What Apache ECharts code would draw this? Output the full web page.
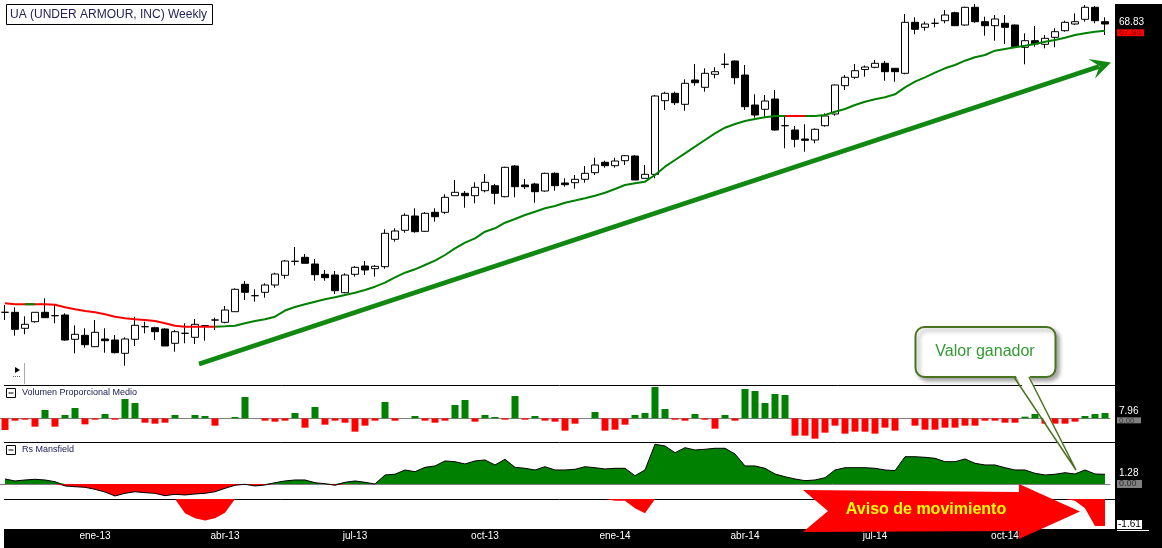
<!DOCTYPE html>
<html><head><meta charset="utf-8">
<script src="https://cdn.jsdelivr.net/npm/echarts@6/dist/echarts.min.js"></script>
<style>html,body{margin:0;padding:0;background:#fff}#c{width:1162px;height:548px}</style>
</head><body><div id="c"></div>
<script>
// ---- DATA (weekly, UA) ----
const firstWeek = '2012-11-02';
// [open, close, low, high]
const candles = [
[31.35,31.35,30.35,32.30],[31.35,29.14,28.31,32.00],[29.27,29.79,28.49,30.83],[30.13,31.35,30.00,31.35],[31.35,30.65,30.65,33.17],
[30.91,30.91,29.92,32.30],[31.00,27.75,27.66,31.22],[27.84,28.49,26.02,29.66],[28.36,27.14,26.75,29.27],[26.88,28.75,26.88,30.35],
[27.88,27.66,26.10,29.27],[27.75,26.10,26.02,28.40],[26.02,27.88,24.41,28.10],[27.84,29.66,26.97,30.78],[29.48,29.48,28.62,30.13],
[29.35,28.83,27.75,29.48],[29.18,26.97,26.97,29.27],[27.32,28.83,26.23,29.05],[28.62,28.62,27.32,29.92],[28.10,29.79,27.23,30.48],
[29.61,29.61,27.66,29.70],[30.35,30.35,29.05,30.65],[30.05,31.65,29.92,32.17],[31.43,34.34,31.43,34.47],[34.99,33.95,32.95,35.42],
[33.51,33.51,32.73,34.34],[33.95,34.90,33.25,35.12],[34.90,36.33,34.55,36.50],[36.16,38.02,35.72,38.15],[37.98,37.98,37.46,39.84],
[38.50,37.72,37.72,38.93],[37.63,36.24,35.46,38.28],[36.29,35.85,35.46,36.85],[36.20,34.16,33.73,36.72],[33.90,36.20,33.82,36.42],
[36.29,37.20,35.98,37.37],[37.37,36.85,36.20,38.02],[37.02,37.33,35.98,37.50],[37.28,41.62,37.02,42.14],[40.84,41.92,40.53,42.27],
[42.01,43.96,41.70,44.22],[43.87,41.83,41.70,44.87],[41.88,44.22,41.79,44.39],[44.35,43.78,43.13,44.87],[44.35,46.30,44.13,46.69],
[46.51,46.95,46.51,48.55],[46.82,46.51,44.95,47.12],[46.51,47.60,45.52,48.25],[47.16,48.25,46.95,49.33],[47.81,46.82,45.39,48.03],
[46.38,50.20,46.30,50.28],[50.37,47.68,46.30,50.50],[47.90,47.68,47.38,48.68],[48.03,47.03,45.60,48.20],[47.12,49.42,47.03,49.50],
[49.42,47.81,47.16,49.55],[48.16,47.94,47.68,48.77],[48.20,48.64,47.42,49.20],[48.64,49.42,48.20,50.37],[49.50,50.50,49.20,51.45],
[50.85,50.41,50.15,51.06],[50.41,51.02,50.15,51.45],[51.06,51.71,50.50,51.80],[51.67,48.55,48.55,51.80],[48.77,49.29,48.77,50.50],
[49.29,59.47,48.77,59.60],[58.86,59.82,57.65,60.03],[59.82,58.60,58.30,60.03],[58.39,61.12,57.56,61.64],[61.55,61.20,60.81,63.63],
[60.60,62.42,60.03,63.07],[62.29,62.63,61.77,63.20],[63.59,63.59,63.07,65.02],[64.02,61.85,60.99,64.08],[62.20,58.08,57.65,63.50],
[58.30,57.00,56.65,59.69],[57.74,58.82,56.78,59.60],[59.08,55.05,54.96,60.25],[55.61,55.61,52.67,56.78],[55.05,53.84,52.80,55.57],
[53.88,53.71,52.23,55.79],[53.75,55.14,53.32,55.27],[55.61,56.87,55.48,57.22],[57.13,60.90,56.91,60.96],[60.81,61.90,60.25,62.20],
[61.90,62.76,61.68,63.63],[62.91,63.24,61.98,63.43],[63.20,63.72,63.07,64.15],[63.72,62.63,61.46,64.02],[63.07,62.63,61.33,63.11],
[62.42,69.05,62.29,70.13],[69.05,68.14,67.49,69.70],[68.40,68.83,67.96,69.13],[68.92,68.92,68.40,69.57],[69.26,70.00,68.92,70.65],
[70.30,68.61,68.57,70.43],[68.70,71.00,68.61,71.08],[71.00,69.13,69.00,71.43],[69.13,68.61,67.31,69.78],[68.61,69.48,66.66,70.00],
[68.92,68.40,66.23,70.00],[68.70,65.88,65.80,68.77],[65.80,66.66,63.59,67.62],[66.66,66.23,65.88,68.57],[66.19,66.97,65.67,67.40],
[67.10,67.83,65.80,68.27],[67.96,69.05,67.83,69.26],[68.83,69.13,68.70,70.22],[69.44,71.00,69.13,71.30],[71.00,69.26,68.92,71.17],
[69.13,68.83,67.40,69.70]
];
const ma30 = [
32.52,32.39,32.39,32.39,32.39,32.34,32.00,31.74,31.52,31.35,
31.09,30.78,30.57,30.44,30.35,30.22,29.92,29.61,29.48,29.48,
29.48,29.48,29.53,29.61,29.92,30.22,30.44,30.78,31.58,32.04,
32.39,32.73,33.04,33.30,33.60,33.90,34.25,34.68,35.20,35.90,
36.50,36.94,37.50,38.06,38.80,39.67,40.40,40.97,41.83,42.27,
43.00,43.48,44.00,44.43,44.87,45.17,45.60,45.88,46.17,46.51,
46.90,47.38,47.90,48.12,48.33,49.20,50.28,51.15,52.02,52.88,
53.75,54.62,55.35,55.83,56.22,56.48,56.70,56.87,56.87,56.87,
56.87,56.87,57.00,57.43,57.78,58.30,58.73,59.04,59.30,59.69,
60.60,61.33,61.90,62.50,63.07,63.50,64.06,64.50,64.80,65.36,
65.58,65.80,66.01,66.23,66.53,66.75,67.05,67.40,67.62,67.83,
67.96
];
// week-index ranges where the average is drawn in red (falling)
const maDownRanges = [[0,2],[3,21],[78,80]];
const volumeRatio = [
-17.5,-3.5,-2.0,-12.5,12.5,-12.5,5.0,15.5,-9.0,-2.0,
6.5,-2.0,29.0,23.0,-6.5,-8.0,-6.5,5.0,0,5.0,
3.5,-11.0,0,2.0,32.0,0,-3.5,-5.0,-3.5,8.0,
-14.0,17.0,-9.5,-3.5,-6.5,-20.0,-11.0,-3.5,24.5,-3.5,
0,3.5,-3.5,-6.5,-3.5,20.0,27.5,-5.0,5.0,2.0,
-2.0,33.5,-2.0,3.5,-3.5,-5.0,-18.5,-8.0,0,9.5,
-18.5,-17.0,-9.5,5.0,8.0,47.0,14.0,-2.0,-3.5,6.5,
-2.0,-15.5,5.0,-3.5,44.0,41.0,23.0,36.5,35.0,-26.0,
-26.0,-30.5,-21.5,-11.0,-23.0,-20.0,-20.0,-23.0,-14.0,-18.5,
0,-11.0,-17.0,-17.0,-14.0,-14.0,-11.0,-11.0,-3.5,-3.5,
-6.5,-6.5,2.5,6.5,-8.0,-8.0,-8.0,-5.0,3.5,6.5,
7.96
];
const rsMansfield = [
0.66,0.40,0.53,0.62,0.53,0.30,-0.26,-0.36,-0.44,-0.70,
-1.06,-1.58,-1.23,-1.02,-1.15,-1.23,-1.54,-1.36,-1.45,-1.32,
-1.23,-1.02,-0.57,-0.17,-0.04,-0.26,-0.13,0.17,0.40,0.53,
0.53,0.17,0.04,-0.17,0.22,0.40,0.22,0.00,1.19,1.29,
1.85,1.62,2.20,2.38,3.04,2.94,2.64,3.04,3.17,2.51,
3.26,2.20,2.07,1.85,2.28,1.85,1.85,1.94,2.28,2.15,
1.98,2.07,2.07,1.10,1.85,5.24,5.02,4.13,4.79,4.49,
4.58,4.71,4.71,3.96,2.38,2.38,2.07,1.32,0.96,0.66,
0.44,0.53,0.83,1.85,2.15,2.15,2.15,2.07,1.85,1.76,
3.60,3.60,3.52,3.39,2.94,2.94,3.30,2.73,2.51,2.51,
2.15,1.85,1.85,1.41,1.19,1.28,1.49,1.32,1.85,1.32,
1.28
];
// [week index, value] of the lower warning band
const rsWarningPoints = [[17,0],[18,-0.85],[19,-1.15],[20,-1.29],[21,-1.15],[22,-0.82],[23,0],
[60,0],[61,-0.10],[62,-0.10],[63,-0.55],[64,-0.85],[65,0],
[106,0],[107,-0.10],[108,-0.55],[109,-1.61],[110,-1.61]];
const tickLabels = [['2013-01-04','ene-13'],['2013-04-05','abr-13'],['2013-07-05','jul-13'],['2013-10-04','oct-13'],
['2014-01-03','ene-14'],['2014-04-04','abr-14'],['2014-07-04','jul-14'],['2014-10-03','oct-14']];

// ---- BUILD ----
const N = candles.length;
const categories = [];
const t0 = Date.parse(firstWeek + 'T00:00:00Z');
for (let i = 0; i < N; i++) categories.push(new Date(t0 + i * 7 * 86400000).toISOString().slice(0, 10));
const tickMap = {}; tickLabels.forEach(([d, t]) => { tickMap[d] = t; });
const segDown = i => maDownRanges.some(([a, b]) => i >= a && i < b);
const maRed = ma30.map((v, i) => (segDown(i) && i < N - 1) || (i > 0 && segDown(i - 1)) ? v : null);
const maGreen = ma30.map((v, i) => (!segDown(i) && i < N - 1) || (i > 0 && !segDown(i - 1)) ? v : null);
const rsPos = rsMansfield.map(v => Math.max(v, 0));
const rsNeg = rsMansfield.map(v => Math.min(v, 0));
const rsWarning = new Array(N).fill(null);
rsWarningPoints.forEach(([i, v]) => { rsWarning[i] = v; });

const FONT = 'Liberation Sans';
const GREEN = '#008000', RED = '#ff0000';
const grids = [
  {left: 0, top: 4, width: 1110, height: 380},
  {left: 0, top: 385, width: 1110, height: 57},
  {left: 0, top: 442, width: 1110, height: 57},
  {left: 0, top: 499, width: 1110, height: 30}
];
function xAx(g, extra) {
  return Object.assign({
    type: 'category', gridIndex: g, data: categories, boundaryGap: true,
    axisLine: {show: false}, axisTick: {show: false}, axisLabel: {show: false}, splitLine: {show: false}
  }, extra || {});
}
function yAx(g, min, max) {
  return {type: 'value', gridIndex: g, min: min, max: max, show: false, splitLine: {show: false}};
}
const chart = echarts.init(document.getElementById('c'));
chart.setOption({
  animation: false,
  backgroundColor: '#ffffff',
  grid: grids,
  xAxis: [
    xAx(0),
    xAx(1, {axisLine: {show: true, onZero: true, lineStyle: {color: '#808080', width: 1}}}),
    xAx(2, {axisLine: {show: true, onZero: true, lineStyle: {color: '#808080', width: 1}}}),
    xAx(3, {z: 10, axisLabel: {show: true, color: '#ffffff', fontSize: 10, fontFamily: FONT, margin: 2,
      interval: (idx, val) => tickMap[val] !== undefined, formatter: val => tickMap[val] || ''}})
  ],
  yAxis: [yAx(0, 22.03, 71.43), yAx(1, -35.5, 50), yAx(2, -1.98, 5.54), yAx(3, -1.79, 0)],
  series: [
    {type: 'candlestick', xAxisIndex: 0, yAxisIndex: 0, data: candles, barWidth: 7,
      itemStyle: {color: '#ffffff', color0: '#000000', borderColor: '#000000', borderColor0: '#000000',
        borderColorDoji: '#000000', borderWidth: 1}},
    {type: 'line', xAxisIndex: 0, yAxisIndex: 0, data: maRed, symbol: 'none', connectNulls: false,
      lineStyle: {color: RED, width: 2}, z: 3},
    {type: 'line', xAxisIndex: 0, yAxisIndex: 0, data: maGreen, symbol: 'none', connectNulls: false,
      lineStyle: {color: GREEN, width: 2}, z: 3},
    {type: 'bar', xAxisIndex: 1, yAxisIndex: 1, data: volumeRatio, barWidth: 7,
      itemStyle: {color: p => (p.value >= 0 ? GREEN : RED)}},
    {type: 'line', xAxisIndex: 2, yAxisIndex: 2, data: rsPos, symbol: 'none',
      lineStyle: {width: 0, color: GREEN}, itemStyle: {color: GREEN}, areaStyle: {color: GREEN, opacity: 1}},
    {type: 'line', xAxisIndex: 2, yAxisIndex: 2, data: rsNeg, symbol: 'none',
      lineStyle: {width: 0, color: RED}, itemStyle: {color: RED}, areaStyle: {color: RED, opacity: 1}},
    {type: 'line', xAxisIndex: 2, yAxisIndex: 2, data: rsMansfield, symbol: 'none', z: 3,
      lineStyle: {width: 1, color: '#000000'}, itemStyle: {color: '#000000'}},
    {type: 'line', xAxisIndex: 3, yAxisIndex: 3, data: rsWarning, symbol: 'none', connectNulls: false,
      lineStyle: {width: 0, color: RED}, itemStyle: {color: RED}, areaStyle: {color: RED, opacity: 1}}
  ]
});

// ---- annotations and value labels ----
const last = N - 1;
const pp = (g, v) => chart.convertToPixel({xAxisIndex: g, yAxisIndex: g}, [last, v]);
const yPrice = pp(0, candles[last][1])[1];
const yMA = pp(0, ma30[last])[1];
const yVol = pp(1, volumeRatio[last])[1];
const yVol0 = pp(1, 0)[1];
const yRs = pp(2, rsMansfield[last])[1];
const yRs0 = pp(2, 0)[1];
const yW = pp(3, rsWarning[last])[1];

function txt(x, y, s, opt) {
  return {type: 'text', x: x, y: y, style: Object.assign({text: s, fill: '#000', font: '10px ' + FONT,
    verticalAlign: 'middle'}, opt || {})};
}
const G = [];
G.push({type: 'rect', z: 0, shape: {x: 4, y: 529, width: 1158, height: 19}, style: {fill: '#000'}});
G.push({type: 'rect', z: 0, shape: {x: 1115, y: 4, width: 47, height: 544}, style: {fill: '#000'}});
[385.5, 442.5, 499.5].forEach(y => G.push({type: 'line', z: 1, shape: {x1: 4, y1: y, x2: 1115, y2: y}, style: {stroke: '#000', lineWidth: 1}}));
G.push({type: 'rect', z: 20, shape: {x: 6.5, y: 4.5, width: 206, height: 20}, style: {fill: '#fff', stroke: '#000', lineWidth: 1}});
G.push(Object.assign(txt(10, 15, 'UA (UNDER ARMOUR, INC) Weekly', {fill: '#23235a', font: '12px ' + FONT}), {z: 21}));
[[388.5, 393, 'Volumen Proporcional Medio'], [445.5, 450, 'Rs Mansfield']].forEach(([by, ty, s]) => {
  G.push({type: 'rect', z: 20, shape: {x: 6.5, y: by, width: 9, height: 9}, style: {fill: '#fff', stroke: '#000', lineWidth: 1}});
  G.push({type: 'line', z: 21, shape: {x1: 8.5, y1: by + 4.5, x2: 13.5, y2: by + 4.5}, style: {stroke: '#000', lineWidth: 1}});
  G.push(Object.assign(txt(22, ty, s, {fill: '#20205a', font: '9px ' + FONT}), {z: 21}));
});
G.push({type: 'polygon', z: 20, shape: {points: [[15, 367], [20, 370], [15, 373]]}, style: {fill: '#000'}});
G.push({type: 'line', z: 20, shape: {x1: 13, y1: 376.5, x2: 20, y2: 376.5}, style: {stroke: '#666', lineWidth: 1, lineDash: [1, 1]}});
G.push({type: 'line', z: 20, shape: {x1: 24.5, y1: 363, x2: 24.5, y2: 384}, style: {stroke: '#aaa', lineWidth: 1}});
G.push({type: 'line', z: 50, shape: {x1: 199, y1: 364, x2: 1099, y2: 66.5}, style: {stroke: '#118811', lineWidth: 4.5}});
G.push({type: 'polygon', z: 50, shape: {points: [[1111, 62.5], [1088.5, 59], [1099.6, 66.3], [1095, 78.5]]}, style: {fill: '#118811'}});
G.push({type: 'rect', z: 100, shape: {x: 915.5, y: 327, width: 140, height: 50, r: 9},
  style: {fill: '#fff', stroke: '#4a7320', lineWidth: 2, shadowBlur: 4, shadowColor: 'rgba(0,0,0,0.35)', shadowOffsetX: 3, shadowOffsetY: 3}});
G.push({type: 'polygon', z: 101, shape: {points: [[1014.5, 374], [1076, 470], [1028.5, 374]]}, style: {fill: '#fff'}});
G.push({type: 'polyline', z: 102, shape: {points: [[1014, 377], [1076, 470], [1029, 377]]}, style: {stroke: '#4a7320', lineWidth: 1.5, fill: null}});
G.push(Object.assign(txt(985, 352, 'Valor ganador', {fill: '#339933', font: '16px ' + FONT, align: 'center'}), {z: 103}));
G.push({type: 'polygon', z: 100, shape: {points: [[803, 490], [1019, 492], [1019, 484], [1080, 511.5], [1019, 539], [1019, 531], [803, 532], [828, 511]]},
  style: {fill: RED}});
G.push(Object.assign(txt(926, 510, 'Aviso de movimiento', {fill: '#ffff00', font: 'bold 16px ' + FONT, align: 'center'}), {z: 101}));
G.push(Object.assign(txt(1119, yPrice - 1.5, candles[last][1].toFixed(2), {fill: '#fff'}), {z: 30}));
G.push({type: 'rect', z: 30, shape: {x: 1117, y: yMA - 1.5, width: 27, height: 7}, style: {fill: RED}});
G.push(Object.assign(txt(1119, yMA + 2, ma30[last].toFixed(2), {fill: '#7a0000', font: '9px ' + FONT}), {z: 31}));
G.push({type: 'rect', z: 30, shape: {x: 1117, y: yVol0 - 1, width: 24, height: 6}, style: {fill: '#808080'}});
G.push(Object.assign(txt(1119, yVol0 + 2, '0.00', {fill: '#404040', font: '8px ' + FONT}), {z: 31}));
G.push(Object.assign(txt(1119, yVol - 1.5, volumeRatio[last].toFixed(2), {fill: '#fff'}), {z: 32}));
G.push({type: 'rect', z: 30, shape: {x: 1117, y: yRs0 - 4, width: 25, height: 8}, style: {fill: '#808080'}});
G.push(Object.assign(txt(1119, yRs0, '0.00', {fill: '#303030', font: '9px ' + FONT}), {z: 31}));
G.push(Object.assign(txt(1119, yRs - 1, rsMansfield[last].toFixed(2), {fill: '#fff'}), {z: 32}));
G.push({type: 'rect', z: 30, shape: {x: 1117, y: yW - 6, width: 25, height: 9}, style: {fill: '#fff'}});
G.push({type: 'line', z: 30, shape: {x1: 1117, y1: 530.5, x2: 1149, y2: 530.5}, style: {stroke: '#fff', lineWidth: 1}});
G.push(Object.assign(txt(1118, yW - 1.5, rsWarning[last].toFixed(2), {fill: '#000'}), {z: 31}));

chart.setOption({graphic: {elements: G}});
</script>
</body></html>
